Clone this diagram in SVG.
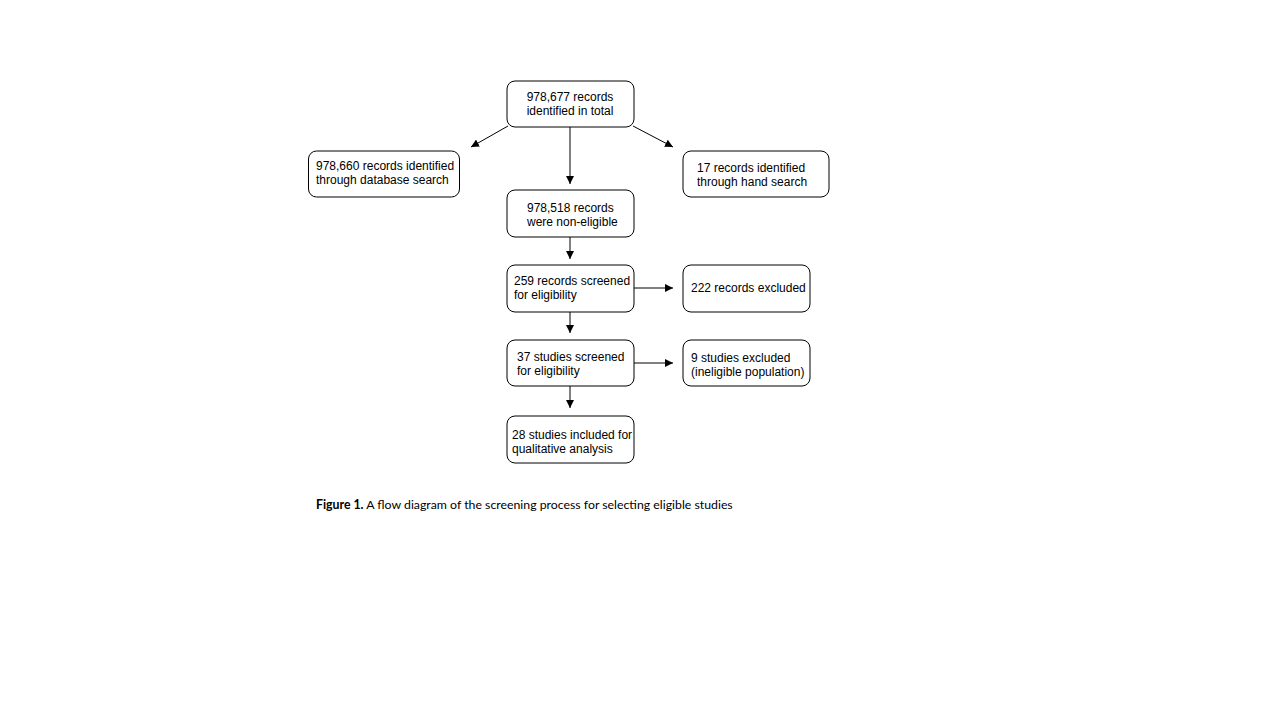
<svg xmlns="http://www.w3.org/2000/svg" width="1280" height="720" viewBox="0 0 1280 720">
<style>
.box{fill:#fff;stroke:#000;stroke-width:1}
.t{font-family:"Liberation Sans",Arial,sans-serif;font-size:12px;fill:#000}
.c{text-anchor:middle}
.ln{stroke:#000;stroke-width:1;fill:none;marker-end:url(#ah)}
.cap{font-family:Lato,"Open Sans",sans-serif;font-size:12.3px;fill:#000}
</style>
<defs>
<marker id="ah" viewBox="0 0 10 10" refX="10" refY="5" markerWidth="8" markerHeight="8" markerUnits="userSpaceOnUse" orient="auto">
<path d="M0,0 L10,5 L0,10 z" fill="#000"/>
</marker>
</defs>
<rect width="1280" height="720" fill="#fff"/>
<g id="connectors">
<line class="ln" x1="570" y1="127" x2="570" y2="184"/>
<line class="ln" x1="508" y1="126" x2="471" y2="147"/>
<line class="ln" x1="633" y1="126" x2="673" y2="147"/>
<line class="ln" x1="570" y1="237" x2="570" y2="259"/>
<line class="ln" x1="634" y1="288" x2="673" y2="288"/>
<line class="ln" x1="570" y1="312" x2="570" y2="333"/>
<line class="ln" x1="634" y1="363" x2="673" y2="363"/>
<line class="ln" x1="570" y1="386" x2="570" y2="408"/>
</g>
<g id="n1"><rect class="box" x="507" y="81" width="127" height="46" rx="8"/>
<text class="t c" x="570" y="101">978,677 records</text><text class="t c" x="570" y="115">identified in total</text></g>
<g id="n2"><rect class="box" x="308.5" y="151" width="151" height="46" rx="8"/>
<text class="t" x="316" y="170">978,660 records identified</text><text class="t" x="316" y="184">through database search</text></g>
<g id="n3"><rect class="box" x="683" y="151" width="146" height="46" rx="8"/>
<text class="t" x="697" y="172">17 records identified</text><text class="t" x="697" y="186">through hand search</text></g>
<g id="n4"><rect class="box" x="507" y="190" width="127" height="47" rx="8"/>
<text class="t" x="527" y="212">978,518 records</text><text class="t" x="527" y="226">were non-eligible</text></g>
<g id="n5"><rect class="box" x="507" y="265" width="127" height="47" rx="8"/>
<text class="t" x="514" y="285">259 records screened</text><text class="t" x="514" y="299">for eligibility</text></g>
<g id="n6"><rect class="box" x="683" y="265" width="127" height="47" rx="8"/>
<text class="t" x="691" y="292">222 records excluded</text></g>
<g id="n7"><rect class="box" x="507" y="340" width="127" height="46" rx="8"/>
<text class="t" x="517" y="361">37 studies screened</text><text class="t" x="517" y="375">for eligibility</text></g>
<g id="n8"><rect class="box" x="683" y="340" width="127" height="46" rx="8"/>
<text class="t" x="691" y="362">9 studies excluded</text><text class="t" x="691" y="376">(ineligible population)</text></g>
<g id="n9"><rect class="box" x="507" y="416" width="127" height="47" rx="8"/>
<text class="t" x="512" y="439">28 studies included for</text><text class="t" x="512" y="453">qualitative analysis</text></g>
<text class="cap" x="316" y="509"><tspan font-weight="bold">Figure 1.</tspan> A flow diagram of the screening process for selecting eligible studies</text>
</svg>
